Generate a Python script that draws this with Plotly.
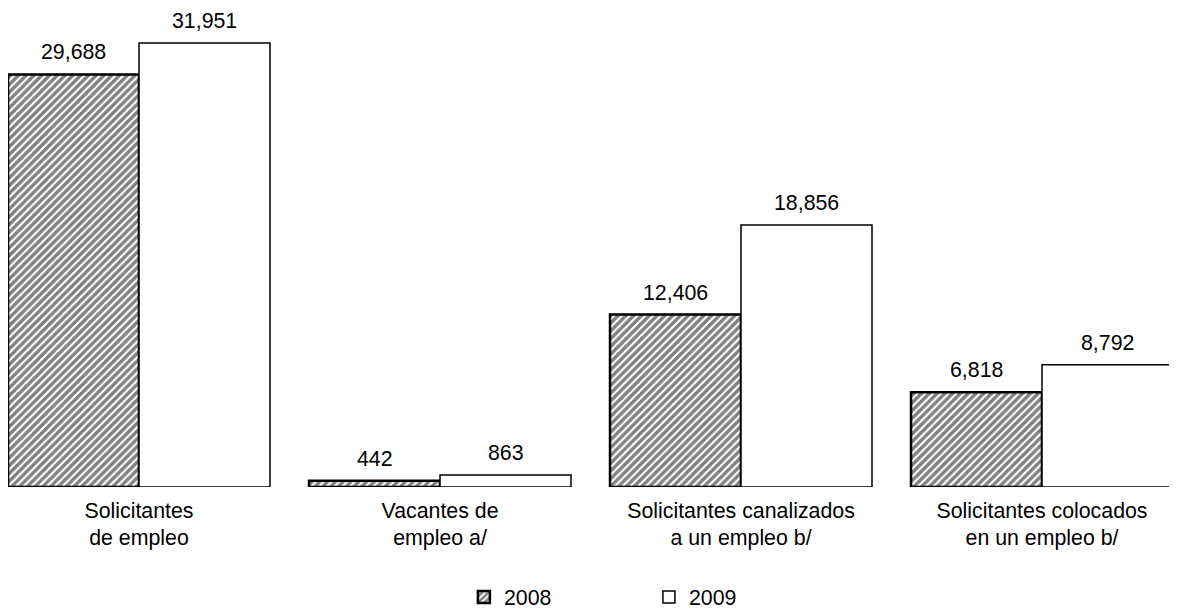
import plotly.graph_objects as go

categories = ["Solicitantes<br>de empleo", "Vacantes de<br>empleo a/",
              "Solicitantes canalizados<br>a un empleo b/", "Solicitantes colocados<br>en un empleo b/"]
years = ["2008", "2009"]
values_2008 = [29688, 442, 12406, 6818]
values_2009 = [31951, 863, 18856, 8792]

FONT = "Liberation Sans, Arial, sans-serif"
FS = 21.33
xs = list(range(len(categories)))

fig = go.Figure()
fig.add_trace(go.Bar(
    x=xs, y=values_2008, name=years[0],
    marker=dict(color="white",
                pattern=dict(shape="/", fgcolor="#000000", bgcolor="white", size=5.5, solidity=0.6),
                line=dict(color="black", width=2.5)),
))
fig.add_trace(go.Bar(
    x=xs, y=values_2009, name=years[1],
    marker=dict(color="white", line=dict(color="black", width=1.5)),
))

annotations = []
for vals, shift in ((values_2008, -65.5), (values_2009, 65.5)):
    for i, v in enumerate(vals):
        annotations.append(dict(x=i, y=v, xref="x", yref="y", text=f"{v:,}",
                                showarrow=False, xshift=shift, yanchor="bottom", yshift=8,
                                font=dict(size=FS, color="black", family=FONT)))

fig.update_layout(
    width=1169, height=605,
    margin=dict(l=0, r=0, t=0, b=126),
    paper_bgcolor="white", plot_bgcolor="white",
    font=dict(family=FONT, size=FS, color="black"),
    barmode="group", bargap=0.1296, bargroupgap=0,
    showlegend=True,
    legend=dict(orientation="h", x=0.390, xanchor="left", xref="paper",
                y=0.0264, yanchor="middle", yref="container",
                font=dict(size=FS), entrywidth=140, traceorder="normal"),
    annotations=annotations,
    xaxis=dict(range=[-0.4352, 3.4485], tickmode="array", tickvals=xs, ticktext=categories,
               showgrid=False, zeroline=False, showline=False, ticks="outside", ticklen=4,
               tickcolor="rgba(0,0,0,0)", tickfont=dict(size=FS)),
    yaxis=dict(range=[0, 34470], visible=False, showgrid=False, zeroline=False),
)

fig.write_html("out.html")
